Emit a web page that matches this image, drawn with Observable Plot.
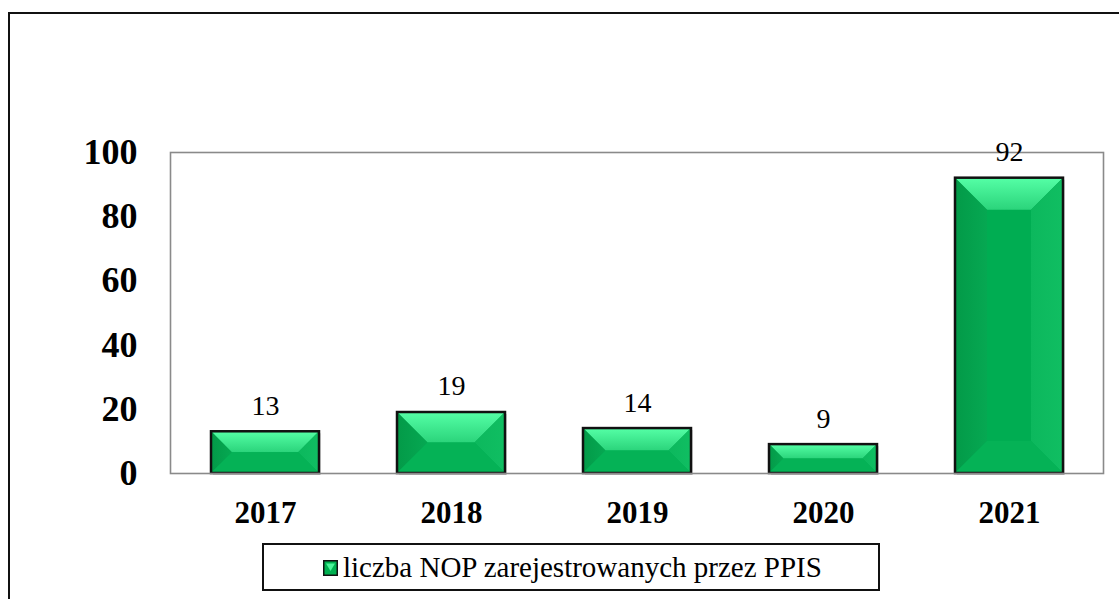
<!DOCTYPE html>
<html><head><meta charset="utf-8">
<script src="https://cdn.jsdelivr.net/npm/d3@7"></script>
<script src="https://cdn.jsdelivr.net/npm/@observablehq/plot@0.6"></script>
<style>
body{margin:0;background:#fff;}
#wrap{position:relative;width:1119px;height:599px;overflow:hidden;font-family:"Liberation Serif","Times New Roman",Times,"DejaVu Serif",serif;background:#fff;}
#border{position:absolute;left:8px;top:12px;width:1200px;height:700px;border:2px solid #111;}
#chart{position:absolute;left:0;top:0;}
#legend{position:absolute;left:262px;top:543px;width:614px;height:44px;border:2px solid #111;background:#fff;box-sizing:content-box;}
#legend .mk{position:absolute;left:59px;top:15px;}
#legend .lb{position:absolute;left:79px;top:0;line-height:44px;font-size:29px;color:#000;white-space:nowrap;font-family:"Liberation Serif","Times New Roman",Times,"DejaVu Serif",serif;}
</style>
</head><body>
<div id="wrap">
  <div id="border"></div>
  <div id="chart"></div>
  <div id="legend">
    <svg class="mk" width="15" height="16" viewBox="0 0 15 16">
      <rect x="0.75" y="0.75" width="13.5" height="14.5" fill="#00b050" stroke="#111" stroke-width="1.5"/>
      <polygon points="3,3.5 12,3.5 7.5,11" fill="#4cf59a"/>
    </svg>
    <span class="lb" id="lbl"></span>
  </div>
</div>
<script>
const years = ["2017", "2018", "2019", "2020", "2021"];
const counts = [13, 19, 14, 9, 92];
const yTicks = [0, 20, 40, 60, 80, 100];
const seriesLabel = "liczba NOP zarejestrowanych przez PPIS";

const data = years.map((y, i) => ({year: y, value: counts[i]}));
document.getElementById("lbl").textContent = seriesLabel;

const FONT = '"Liberation Serif","Times New Roman",Times,"DejaVu Serif",serif';
const ns = "http://www.w3.org/2000/svg";
function bevel(index, scales, values, dimensions, context, next) {
  const g = next(index, scales, values, dimensions, context);
  const doc = context.document;
  const defs = doc.createElementNS(ns, "defs");
  defs.innerHTML = `<linearGradient id="bvTop" x1="0" y1="0" x2="0" y2="1">
      <stop offset="0" stop-color="#55ffa6"/><stop offset="1" stop-color="#2bd47b"/></linearGradient>
    <linearGradient id="bvLeft" x1="0" y1="0" x2="1" y2="0">
      <stop offset="0" stop-color="#039a48"/><stop offset="1" stop-color="#06a852"/></linearGradient>
    <linearGradient id="bvRight" x1="0" y1="0" x2="1" y2="0">
      <stop offset="0" stop-color="#0cb85d"/><stop offset="1" stop-color="#10be62"/></linearGradient>`;
  g.insertBefore(defs, g.firstChild);
  const rects = Array.from(g.querySelectorAll("rect"));
  for (const r of rects) {
    const x0 = +r.getAttribute("x"), y0 = +r.getAttribute("y");
    const w = +r.getAttribute("width"), h = +r.getAttribute("height");
    const x1 = x0 + w, y1 = y0 + h;
    const d = Math.min(32, h / 2, w / 2);
    const parent = r.parentNode;
    const sh = doc.createElementNS(ns, "rect");
    sh.setAttribute("x", x0 + 2); sh.setAttribute("y", y0 + 2);
    sh.setAttribute("width", w); sh.setAttribute("height", h);
    sh.setAttribute("fill", "#000"); sh.setAttribute("fill-opacity", "0.12");
    parent.insertBefore(sh, r);
    const polys = [
      [[x0, y0], [x1, y0], [x1 - d, y0 + d], [x0 + d, y0 + d], "url(#bvTop)"],
      [[x0, y0], [x0 + d, y0 + d], [x0 + d, y1 - d], [x0, y1], "url(#bvLeft)"],
      [[x1, y0], [x1, y1], [x1 - d, y1 - d], [x1 - d, y0 + d], "url(#bvRight)"],
      [[x0, y1], [x0 + d, y1 - d], [x1 - d, y1 - d], [x1, y1], "#05b256"]
    ];
    const after = r.nextSibling;
    for (const p of polys) {
      const pg = doc.createElementNS(ns, "polygon");
      pg.setAttribute("points", p.slice(0, 4).map(q => q.join(",")).join(" "));
      pg.setAttribute("fill", p[4]);
      parent.insertBefore(pg, after);
    }
    const st = doc.createElementNS(ns, "rect");
    st.setAttribute("x", x0); st.setAttribute("y", y0);
    st.setAttribute("width", w); st.setAttribute("height", h);
    st.setAttribute("fill", "none"); st.setAttribute("stroke", "#111"); st.setAttribute("stroke-width", "2.5");
    parent.insertBefore(st, after);
  }
  return g;
}

const chart = Plot.plot({
  width: 1119,
  height: 530,
  marginLeft: 170,
  marginRight: 16,
  marginTop: 152,
  marginBottom: 57,
  style: {fontFamily: FONT, background: "transparent", color: "#000"},
  x: {domain: years, paddingInner: 0.42, paddingOuter: 0.21, label: null},
  y: {domain: [0, 100], label: null},
  marks: [
    Plot.barY(data, {x: "year", y: "value", fill: "#00ad52", render: bevel}),
    Plot.frame({stroke: "#8a8a8a", strokeWidth: 1.6}),
    Plot.text(data, {x: "year", y: "value", text: d => String(d.value), dy: -26, fontSize: 28, fontFamily: FONT, fill: "#000"}),
    Plot.axisX({tickSize: 0, tickPadding: 27, fontSize: 31, fontWeight: "bold", fontFamily: FONT, label: null}),
    Plot.axisY({ticks: yTicks, tickSize: 0, tickPadding: 33, fontSize: 36, fontWeight: "bold", fontFamily: FONT, label: null})
  ]
});
document.getElementById("chart").appendChild(chart);
</script>
</body></html>
